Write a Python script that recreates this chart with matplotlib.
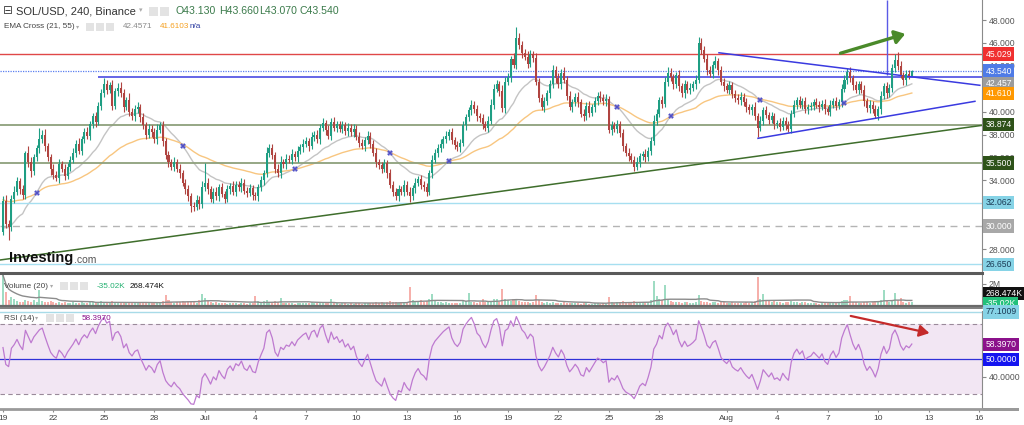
import numpy as np
import pandas as pd
import matplotlib
matplotlib.use("Agg")
import matplotlib.pyplot as plt
import matplotlib.dates as mdates
from matplotlib.patches import Rectangle

plt.rcParams['font.family'] = ['Liberation Sans', 'DejaVu Sans']

# 4h closes, one row per day, Jun 19 -> Aug 12
closes = [
    32.2, 30.2, 29.9, 32.4, 33.0, 33.9,
    33.2, 32.7, 36.4, 35.6, 34.8, 36.0,
    36.8, 37.6, 38.0, 37.0, 36.0, 35.0,
    34.5, 34.2, 35.4, 35.0, 34.4, 35.2,
    35.8, 36.4, 37.2, 36.6, 37.6, 38.2,
    37.9, 38.9, 39.6, 39.1, 40.5, 41.6,
    42.4, 41.9, 42.3, 40.5, 41.8, 42.1,
    41.6, 40.4, 41.0, 40.0, 39.6, 40.2,
    40.4, 39.5, 38.8, 38.0, 38.5, 38.2,
    37.6, 38.4, 38.8, 37.4, 36.2, 35.6,
    35.2, 35.6, 35.0, 34.6, 33.8, 33.2,
    32.6, 31.8, 31.7, 32.3, 31.9, 33.4,
    33.8, 33.2, 32.4, 33.0, 32.6, 33.4,
    32.8, 32.4, 33.2, 33.5, 33.0, 33.6,
    33.4, 33.8, 33.1, 32.9, 33.3, 32.7,
    32.6, 33.4, 34.0, 34.6, 36.4, 36.8,
    36.2, 35.0, 34.6, 35.6, 35.4, 35.9,
    35.8, 36.3, 36.0, 36.6, 36.9, 37.2,
    37.4, 37.0, 37.8, 38.0, 37.6, 38.6,
    39.0, 38.4, 37.9, 39.1, 38.6, 38.9,
    38.5, 38.8, 38.3, 38.6, 38.2, 38.5,
    37.8, 37.3, 37.0, 37.5, 37.9, 37.2,
    36.4, 35.6, 35.3, 35.0, 35.5, 34.6,
    33.6, 33.0, 32.6, 33.2, 33.0, 33.6,
    33.0, 32.6, 33.3, 33.8, 34.1, 33.6,
    33.4, 33.0, 34.6, 35.8, 36.4, 36.8,
    37.2, 37.6, 37.9, 38.2, 37.5, 37.1,
    36.9, 37.3, 38.8, 39.5, 40.1, 40.6,
    40.2, 39.6, 39.4, 38.9, 38.6, 39.2,
    40.6, 42.0, 42.4, 41.8, 40.3, 42.6,
    43.0, 44.6, 44.1, 46.4, 45.8, 45.1,
    44.8, 44.2, 45.0, 44.7, 42.6, 41.2,
    40.4, 40.9, 41.6, 42.4, 43.6, 42.9,
    42.4, 43.4, 42.8, 41.4, 40.4, 40.8,
    41.3, 40.8, 39.8, 39.6, 40.5, 39.9,
    40.4, 40.9, 41.4, 41.2, 40.9, 41.1,
    38.4, 38.8, 38.5, 38.9, 38.1, 37.0,
    36.4, 36.1, 35.8, 35.2, 35.6, 36.1,
    36.3, 36.0, 36.6, 37.4, 39.2, 39.8,
    41.0, 40.7, 42.6, 43.4, 43.0, 42.4,
    43.2, 42.2, 41.6, 42.4, 41.9, 42.1,
    42.4, 42.8, 46.0, 45.4, 44.6, 43.6,
    43.3, 44.1, 44.4, 43.6, 42.6, 42.2,
    41.9, 42.3, 41.5, 41.2, 41.0, 41.3,
    40.8, 40.4, 40.1, 40.4, 39.6, 38.6,
    39.2, 40.1, 39.7, 39.3, 39.6, 38.9,
    39.0, 38.7, 39.2, 38.8, 38.5, 39.8,
    40.6, 41.0, 40.6, 40.9, 40.2, 40.4,
    40.5, 40.8, 40.6, 40.4, 40.7, 40.2,
    40.0, 40.6, 40.9, 40.5, 40.8, 42.0,
    42.8, 43.5, 42.9, 42.3, 41.9, 42.4,
    41.9, 40.9, 40.3, 40.6, 40.2, 39.6,
    40.2, 41.4, 42.2, 41.6, 42.1, 43.8,
    44.5, 44.0, 43.2, 42.8, 43.3, 43.13,
    43.54,
]
first_open = 29.5

# wick above body top / below body bottom
wick_hi = [
    0.4, 0.5, 0.3, 0.3, 0.5, 0.4,  0.3, 0.4, 0.2, 0.6, 0.4, 0.3,
    0.3, 1.0, 0.4, 0.5, 0.3, 0.3,  0.4, 0.3, 0.5, 0.3, 0.4, 0.3,
    0.3, 0.4, 0.3, 0.5, 0.3, 0.4,  0.5, 0.3, 0.3, 0.4, 0.3, 0.4,
    0.5, 0.4, 0.3, 0.5, 0.3, 0.4,  0.5, 0.4, 0.3, 0.6, 0.3, 0.4,
    0.4, 0.3, 0.4, 0.3, 0.4, 0.3,  0.4, 0.5, 0.3, 0.4, 0.3, 0.4,
    0.3, 0.4, 0.3, 0.4, 0.3, 0.3,  0.4, 0.3, 0.3, 0.4, 0.3, 0.5,
    1.7, 0.4, 0.3, 0.3, 0.4, 0.3,  0.4, 0.3, 0.4, 0.3, 0.4, 0.3,
    0.3, 0.4, 0.3, 0.3, 0.4, 0.3,  0.3, 0.3, 0.4, 0.3, 0.5, 0.4,
    0.4, 0.3, 0.4, 0.5, 0.3, 0.4,  0.3, 0.4, 0.3, 0.4, 0.3, 0.4,
    0.4, 0.3, 0.4, 0.3, 0.4, 0.3,  0.4, 0.3, 0.4, 0.3, 0.4, 0.3,
    0.3, 0.4, 0.3, 0.4, 0.3, 0.4,  0.3, 0.4, 0.3, 0.3, 0.4, 0.3,
    0.3, 0.4, 0.3, 0.3, 0.4, 0.3,  0.4, 0.3, 0.3, 0.4, 0.3, 0.4,
    0.3, 0.4, 0.3, 0.4, 0.3, 0.4,  0.3, 0.4, 0.3, 0.4, 0.3, 0.4,
    0.4, 0.3, 0.4, 0.3, 0.4, 0.3,  0.3, 0.3, 0.4, 0.3, 0.3, 0.4,
    0.3, 0.4, 0.3, 0.4, 0.3, 0.4,  0.5, 0.4, 0.4, 0.3, 0.5, 0.4,
    0.4, 0.3, 0.5, 1.0, 0.5, 0.4,  0.4, 0.5, 0.4, 0.3, 0.4, 0.3,
    0.3, 0.4, 0.3, 0.4, 0.5, 0.4,  0.5, 0.3, 0.5, 0.3, 0.4, 0.3,
    0.3, 0.4, 0.3, 0.4, 0.3, 0.4,  0.3, 0.4, 0.3, 0.4, 0.3, 0.4,
    0.3, 0.4, 0.3, 0.4, 0.3, 0.4,  0.3, 0.4, 0.3, 0.3, 0.4, 0.3,
    0.3, 0.4, 0.3, 0.4, 0.5, 0.4,  0.3, 0.4, 0.4, 0.5, 0.4, 0.3,
    0.3, 0.4, 0.3, 0.4, 0.3, 0.4,  0.3, 0.4, 0.5, 0.4, 0.3, 0.4,
    0.4, 0.3, 0.5, 0.3, 0.4, 0.3,  0.3, 0.4, 0.3, 0.4, 0.3, 0.4,
    0.3, 0.4, 0.3, 0.3, 0.4, 0.3,  0.4, 0.3, 0.4, 0.3, 0.4, 0.3,
    0.3, 0.4, 0.3, 0.3, 0.4, 0.3,  0.4, 0.3, 0.4, 0.3, 0.4, 0.3,
    0.3, 0.3, 0.4, 0.3, 0.3, 0.4,  0.3, 0.4, 0.3, 0.4, 0.3, 0.4,
    0.4, 0.3, 0.4, 0.3, 0.4, 0.3,  0.3, 0.4, 0.3, 0.4, 0.3, 0.4,
    0.3, 0.4, 0.3, 0.4, 0.3, 0.4,  0.5, 0.7, 0.4, 0.3, 0.3, 0.3,
    0.12,
]
wick_lo = [
    0.3, 0.4, 1.1, 0.3, 0.4, 0.3,  0.4, 0.3, 0.3, 0.4, 0.5, 0.3,
    0.3, 0.4, 0.3, 0.4, 0.3, 0.5,  0.4, 0.3, 0.4, 0.3, 0.4, 0.3,
    0.4, 0.3, 0.4, 0.3, 0.4, 0.3,  0.3, 0.4, 0.3, 0.4, 0.3, 0.4,
    0.3, 0.4, 0.3, 0.4, 0.3, 0.4,  0.3, 0.4, 0.3, 0.4, 0.3, 0.4,
    0.3, 0.4, 0.3, 0.4, 0.3, 0.4,  0.3, 0.4, 0.3, 0.4, 0.3, 0.4,
    0.3, 0.4, 0.3, 0.4, 0.3, 0.4,  0.4, 0.6, 0.4, 0.3, 0.4, 0.3,
    0.3, 0.4, 0.3, 0.4, 0.3, 0.4,  0.3, 0.4, 0.3, 0.4, 0.3, 0.4,
    0.3, 0.4, 0.3, 0.4, 0.3, 0.4,  0.3, 0.4, 0.3, 0.4, 0.3, 0.4,
    0.3, 0.4, 0.3, 0.4, 0.3, 0.4,  0.3, 0.4, 0.3, 0.4, 0.3, 0.4,
    0.3, 0.4, 0.3, 0.4, 0.3, 0.4,  0.3, 0.4, 0.3, 0.4, 0.3, 0.4,
    0.3, 0.4, 0.3, 0.4, 0.3, 0.4,  0.3, 0.4, 0.3, 0.4, 0.3, 0.4,
    0.3, 0.4, 0.3, 0.4, 0.3, 0.4,  0.3, 0.4, 0.3, 0.4, 0.3, 0.4,
    0.3, 0.5, 0.3, 0.4, 0.3, 0.4,  0.3, 0.4, 0.3, 0.4, 0.3, 0.4,
    0.3, 0.4, 0.3, 0.4, 0.3, 0.4,  0.3, 0.4, 0.3, 0.4, 0.3, 0.4,
    0.3, 0.4, 0.3, 0.4, 0.3, 0.4,  0.3, 0.4, 0.3, 0.4, 0.3, 0.4,
    0.3, 0.4, 0.3, 0.4, 0.3, 0.4,  0.3, 0.4, 0.3, 0.4, 0.3, 0.4,
    0.3, 0.4, 0.3, 0.4, 0.3, 0.4,  0.3, 0.4, 0.3, 0.4, 0.3, 0.4,
    0.3, 0.4, 0.3, 0.4, 0.3, 0.4,  0.3, 0.4, 0.3, 0.4, 0.3, 0.4,
    0.3, 0.4, 0.3, 0.4, 0.3, 0.4,  0.3, 0.4, 0.3, 0.4, 0.3, 0.4,
    0.3, 0.4, 0.3, 0.4, 0.3, 0.4,  0.3, 0.4, 0.3, 0.4, 0.3, 0.4,
    0.3, 0.4, 0.3, 0.4, 0.3, 0.4,  0.3, 0.4, 0.3, 0.4, 0.3, 0.4,
    0.3, 0.4, 0.3, 0.4, 0.3, 0.4,  0.3, 0.4, 0.3, 0.4, 0.3, 0.4,
    0.3, 0.4, 0.3, 0.4, 0.3, 0.8,  0.3, 0.4, 0.3, 0.4, 0.3, 0.4,
    0.3, 0.4, 0.3, 0.4, 0.3, 0.4,  0.3, 0.4, 0.3, 0.4, 0.3, 0.4,
    0.3, 0.4, 0.3, 0.4, 0.3, 0.4,  0.3, 0.4, 0.3, 0.4, 0.3, 0.4,
    0.3, 0.4, 0.3, 0.4, 0.3, 0.4,  0.3, 0.4, 0.3, 0.4, 0.3, 0.2,
    0.3, 0.4, 0.3, 0.4, 0.3, 0.4,  0.3, 0.4, 0.3, 0.5, 0.5, 0.3,
    0.06,
]

# volume in millions
volume_m = [
    2.8, 1.2, 0.5, 0.75, 0.6, 0.4,   0.3, 0.25, 0.5, 0.35, 0.3, 0.5,
    0.3, 1.4, 0.4, 0.3, 0.25, 0.35,  0.3, 0.2, 0.25, 0.2, 0.3, 0.2,
    0.15, 0.3, 0.2, 0.15, 0.25, 0.2, 0.2, 0.3, 0.25, 0.2, 0.3, 0.4,
    0.3, 0.25, 0.2, 0.35, 0.2, 0.15, 0.2, 0.25, 0.15, 0.2, 0.25, 0.15,
    0.2, 0.25, 0.3, 0.2, 0.15, 0.2,  0.2, 0.25, 0.3, 0.35, 0.9, 0.45,
    0.3, 0.2, 0.25, 0.3, 0.35, 0.3,  0.4, 0.35, 0.3, 0.2, 0.5, 1.0,
    0.7, 0.4, 0.3, 0.2, 0.25, 0.2,   0.15, 0.2, 0.1, 0.15, 0.2, 0.15,
    0.1, 0.15, 0.2, 0.1, 0.15, 0.2,  0.85, 0.4, 0.3, 0.35, 0.5, 0.3,
    0.25, 0.4, 0.3, 0.7, 0.2, 0.15,  0.2, 0.15, 0.1, 0.2, 0.15, 0.2,
    0.15, 0.2, 0.25, 0.2, 0.15, 0.3, 0.2, 0.25, 0.15, 0.6, 0.2, 0.15,
    0.1, 0.15, 0.2, 0.1, 0.15, 0.1,  0.15, 0.2, 0.1, 0.15, 0.2, 0.15,
    0.2, 0.3, 0.2, 0.25, 0.2, 0.3,   0.35, 0.3, 0.25, 0.2, 0.3, 0.25,
    0.3, 1.7, 0.5, 0.3, 0.25, 0.5,   0.3, 0.4, 0.6, 1.0, 0.4, 0.3,
    0.25, 0.2, 0.3, 0.2, 0.15, 0.2,  0.15, 0.2, 0.5, 0.4, 1.15, 0.3,
    0.25, 0.2, 0.3, 0.6, 0.25, 0.3,  0.4, 0.55, 0.6, 0.3, 1.5, 0.6,
    0.5, 0.4, 0.55, 0.5, 0.35, 0.3,  0.25, 0.3, 0.2, 0.3, 0.9, 0.5,
    0.3, 0.2, 0.25, 0.2, 0.3, 0.2,   0.15, 0.2, 0.25, 0.2, 0.15, 0.2,
    0.15, 0.2, 0.1, 0.15, 0.2, 0.1,  0.1, 0.15, 0.2, 0.1, 0.15, 0.1,
    0.75, 0.3, 0.2, 0.25, 0.3, 0.35, 0.3, 0.2, 0.25, 0.4, 0.3, 0.2,
    0.2, 0.25, 0.3, 0.5, 2.3, 0.8,   0.6, 0.5, 1.9, 0.6, 0.4, 0.3,
    0.3, 0.25, 0.2, 0.3, 0.25, 0.2,  0.2, 0.3, 0.9, 0.4, 0.3, 0.25,
    0.2, 0.3, 0.25, 0.2, 0.3, 0.25,  0.2, 0.15, 0.25, 0.2, 0.15, 0.2,
    0.2, 0.25, 0.2, 0.3, 0.4, 2.6,   0.6, 1.0, 0.5, 0.35, 0.3, 0.4,
    0.25, 0.3, 0.2, 0.25, 0.3, 0.35, 0.3, 0.25, 0.2, 0.3, 0.25, 0.2,
    0.15, 0.2, 0.15, 0.1, 0.15, 0.2, 0.2, 0.25, 0.3, 0.2, 0.25, 0.4,
    0.5, 0.45, 0.85, 0.3, 0.25, 0.2, 0.2, 0.3, 0.25, 0.2, 0.3, 0.35,
    0.4, 0.5, 1.4, 0.4, 0.3, 0.5,    1.1, 0.5, 0.7, 0.3, 0.2, 0.25,
    0.268,
]

ema21_seed = 29.6
ema55_seed = 32.3
rsi_seed_gain = 0.25
rsi_seed_loss = 0.35

# drawn levels and lines (price, label, colours)
level_tags = [(45.029, "45.029", "#f03030", "white"), (43.540, "43.540", "#4f7be6", "white"),
              (42.457, "42.457", "#9c9c9c", "white"), (41.610, "41.610", "#ff9800", "white"),
              (38.874, "38.874", "#2e5219", "white"), (35.500, "35.500", "#2e5219", "white"),
              (32.062, "32.062", "#86d3e6", "#1a3a55"), (30.000, "30.000", "#a8a8a8", "white"),
              (26.650, "26.650", "#86d3e6", "#1a3a55")]
price_ticks = [28, 34, 36, 38, 40, 44, 46, 48]
trend_pts = [("2021-06-18 19:40", 27.04), ("2021-08-16 04:00", 38.8)]
tri_upper = [("2021-07-31 13:00", 45.14), ("2021-08-16 01:00", 42.3)]
tri_lower = [("2021-08-02 20:40", 37.67), ("2021-08-15 18:00", 40.9)]
resist_start = "2021-06-24 15:20"
vline_time = "2021-08-10 12:40"
up_arrow = [("2021-08-07 14:30", 45.03), ("2021-08-11 18:30", 46.86)]
rsi_arrow = [("2021-08-08 05:00", 75.1), ("2021-08-13 05:00", 64.6)]

times = pd.date_range("2021-06-19 00:00", periods=len(closes), freq="4h")
x = mdates.date2num(times)
c = np.array(closes)
o = np.r_[first_open, c[:-1]]
top = np.maximum(o, c)
bot = np.minimum(o, c)
hi = top + np.array(wick_hi)
lo = bot - np.array(wick_lo)
up = c >= o


def ema(vals, span, seed):
    k = 2.0 / (span + 1)
    e, out = seed, []
    for v in vals:
        e = e + k * (v - e)
        out.append(e)
    return np.array(out)


ema21 = ema(c, 21, ema21_seed)
ema55 = ema(c, 55, ema55_seed)

ag, al = rsi_seed_gain, rsi_seed_loss
rsi = []
for d in np.r_[c[0] - first_open, np.diff(c)]:
    ag = (ag * 13 + max(d, 0)) / 14
    al = (al * 13 + max(-d, 0)) / 14
    rsi.append(100 - 100 / (1 + ag / al))
rsi = np.array(rsi)

vol = np.array(volume_m)
vol_ma = pd.Series(vol).rolling(20, min_periods=1).mean().values

W, H = 1024, 425
fig = plt.figure(figsize=(W / 100, H / 100), dpi=100)
fig.patch.set_facecolor("white")


def rect(x0, y0, x1, y1):
    return [x0 / W, 1 - y1 / H, (x1 - x0) / W, (y1 - y0) / H]


ax = fig.add_axes(rect(0, 0, 982, 271))
axv = fig.add_axes(rect(0, 275, 982, 305), sharex=ax)
axr = fig.add_axes(rect(0, 311, 982, 409), sharex=ax)

x0 = mdates.date2num(pd.Timestamp("2021-06-19")) - 0.178
x1 = mdates.date2num(pd.Timestamp("2021-06-19")) + 58.17
ax.set_xlim(x0, x1)
ax.set_ylim(26.08, 49.75)
axv.set_ylim(0, 2.82)
axr.set_ylim(21.5, 77.6)

for a in (ax, axv, axr):
    for s in ("top", "left", "bottom"):
        a.spines[s].set_visible(False)
    a.spines["right"].set_color("#8a8a8a")
    a.yaxis.tick_right()
    a.tick_params(axis="y", direction="out", length=3, color="#8a8a8a",
                  labelsize=6.2, labelcolor="#555555", pad=2)
    a.tick_params(axis="x", bottom=False, labelbottom=False)

# candles
green, red = "#1f9e83", "#b04440"
cols = np.where(up, green, red)
ax.vlines(x, lo, hi, colors=cols, lw=0.8, zorder=3)
ax.bar(x, np.maximum(top - bot, 0.05), bottom=bot, width=0.12, color=cols, lw=0, zorder=4)

# EMA cross
ax.plot(x, ema21, color="#c4c4c4", lw=1.0, zorder=2)
ax.plot(x, ema55, color="#f8c680", lw=1.0, zorder=2)
sgn = np.sign(ema21 - ema55)
cross = np.where(np.diff(sgn) != 0)[0] + 1
ax.plot(x[cross], ema21[cross], ls="none", marker="X", ms=4, color="#5050c8", mew=0, zorder=5)

# horizontal levels
ax.axhline(45.029, color="#e04848", lw=1)
ax.axhline(43.540, color="#5a7ff0", lw=0.9, ls=(0, (1, 1)))
ax.hlines(43.02, mdates.date2num(pd.Timestamp(resist_start)), x1, color="#3a3ae0", lw=1.1)
ax.axhline(38.874, color="#8ea07c", lw=1.3)
ax.axhline(35.500, color="#8ea07c", lw=1.3)
ax.axhline(32.062, color="#a6dff0", lw=1)
ax.axhline(30.000, color="#b4b4b4", lw=1, ls=(0, (5, 4)))
ax.axhline(26.650, color="#a6dff0", lw=1)


def seg(pts):
    return [mdates.date2num(pd.Timestamp(t)) for t, _ in pts], [p for _, p in pts]


ax.plot(*seg(trend_pts), color="#3f6e2c", lw=1.1, zorder=3)
ax.plot(*seg(tri_upper), color="#3a3ae0", lw=1.1, zorder=3)
ax.plot(*seg(tri_lower), color="#3a3ae0", lw=1.1, zorder=3)
ax.vlines(mdates.date2num(pd.Timestamp(vline_time)), 43.2, 49.75, color="#5a5ae6", lw=1)

ux, uy = seg(up_arrow)
ax.annotate("", xy=(ux[1], uy[1]), xytext=(ux[0], uy[0]),
            arrowprops=dict(arrowstyle="-|>,head_length=0.6,head_width=0.4", color="#4a8a2a", lw=2.4),
            zorder=6)

ax.set_yticks(price_ticks)
ax.yaxis.set_major_formatter(plt.FuncFormatter(lambda v, p: f"{v:.3f}"))


def tag(a, y, text, bg, fg):
    a.annotate(text, xy=(1, y), xycoords=("axes fraction", "data"), xytext=(2.5, 0),
               textcoords="offset points", ha="left", va="center", fontsize=6.2, color=fg,
               bbox=dict(boxstyle="square,pad=0.25", fc=bg, ec="none"),
               annotation_clip=False, zorder=10)


for y, t, bg, fg in level_tags:
    tag(ax, y, t, bg, fg)

# volume
vcols = np.where(up, "#9fdcc3", "#f6b0ab")
axv.bar(x, vol, width=0.12, color=vcols, lw=0)
axv.plot(x, vol_ma, color="#8c8c8c", lw=1)
axv.set_yticks([2.0])
axv.set_yticklabels(["2M"])
tag(axv, 1.05, "268.474K", "#111111", "white")
tag(axv, 0.1, "-35.02K", "#22c07a", "white")

# RSI
axr.axhspan(30, 70, color="#f2e6f3", lw=0)
axr.axhline(70, color="#9a8a9a", lw=0.8, ls=(0, (4, 3)))
axr.axhline(30, color="#9a8a9a", lw=0.8, ls=(0, (4, 3)))
axr.axhline(50, color="#3030d8", lw=0.9)
axr.axhline(77.1009, color="#a8dbe8", lw=1)
axr.plot(x, rsi, color="#be7ad0", lw=0.9)
rx, ry = seg(rsi_arrow)
axr.annotate("", xy=(rx[1], ry[1]), xytext=(rx[0], ry[0]),
             arrowprops=dict(arrowstyle="-|>,head_length=0.6,head_width=0.35", color="#c42a2a", lw=1.6))
axr.set_yticks([40])
axr.set_yticklabels(["40.0000"])
tag(axr, 77.1009, "77.1009", "#86d3e6", "#1a3a55")
tag(axr, 58.397, "58.3970", "#8b118b", "white")
tag(axr, 50.0, "50.0000", "#1414f0", "white")

# date axis
ticks = ["2021-06-19", "2021-06-22", "2021-06-25", "2021-06-28", "2021-07-01", "2021-07-04",
         "2021-07-07", "2021-07-10", "2021-07-13", "2021-07-16", "2021-07-19", "2021-07-22",
         "2021-07-25", "2021-07-28", "2021-08-01", "2021-08-04", "2021-08-07", "2021-08-10",
         "2021-08-13", "2021-08-16"]
tick_labels = ["19", "22", "25", "28", "Jul", "4", "7", "10", "13", "16", "19", "22",
               "25", "28", "Aug", "4", "7", "10", "13", "16"]
axr.spines["bottom"].set_visible(True)
axr.spines["bottom"].set_color("#9a9a9a")
axr.spines["bottom"].set_linewidth(2)
axr.set_xticks([mdates.date2num(pd.Timestamp(t)) for t in ticks])
axr.set_xticklabels(tick_labels)
axr.tick_params(axis="x", bottom=True, labelbottom=True, length=2.5, color="#8a8a8a",
                labelsize=6, labelcolor="#444444", pad=1.5)

# panel separators
for yy, lw, col in [(272.5, 2.2, "#5a5a5a"), (306, 1.6, "#6a6a6a"), (308, 1.2, "#6a6a6a")]:
    fig.add_artist(plt.Line2D([0, 982 / W], [1 - yy / H] * 2, color=col, lw=lw,
                              transform=fig.transFigure))
fig.add_artist(Rectangle((983 / W, 1 - 411 / H), 36 / W, 3 / H, transform=fig.transFigure,
                         fc="#9a9a9a", ec="none"))


def ftext(px, py, s, **kw):
    fig.text(px / W, 1 - py / H, s, va="center", ha="left", **kw)


def icons(px, py, n, sz=9.0):
    for k in range(n):
        fig.add_artist(Rectangle(((px + k * (sz + 2)) / W, 1 - (py + sz / 2) / H), sz / W, sz / H,
                                 transform=fig.transFigure, fc="#e3e3e3", ec="none"))


ftext(3, 11, "⊟", fontsize=8.5, color="#444444")
ftext(16, 11, "SOL/USD, 240, Binance", fontsize=8.0, color="#333333")
ftext(139, 11, "▾", fontsize=5, color="#aaaaaa")
icons(149, 11, 2)
for px, s in [(175, "O43.130"), (219, "H43.660"), (259, "L43.070"), (300, "C43.540")]:
    ftext(px, 11, s, fontsize=7.6, color="#3a7a4a")
ftext(4, 27, "EMA Cross (21, 55)", fontsize=5.9, color="#444444")
ftext(76, 27, "▾", fontsize=4.5, color="#aaaaaa")
icons(86, 27, 3, 8)
ftext(123, 27, "42.4571", fontsize=5.9, color="#8a8a8a")
ftext(160, 27, "41.6103", fontsize=5.9, color="#f5a020")
ftext(190, 27, "n/a", fontsize=5.9, color="#2a3aa0")

ftext(4, 286, "Volume (20)", fontsize=5.9, color="#444444")
ftext(50, 286, "▾", fontsize=4.5, color="#aaaaaa")
icons(60, 286, 3, 8)
ftext(97, 286, "-35.02K", fontsize=5.9, color="#22b070")
ftext(130, 286, "268.474K", fontsize=5.9, color="#111111")

ftext(4, 318, "RSI (14)", fontsize=5.9, color="#444444")
ftext(35, 318, "▾", fontsize=4.5, color="#aaaaaa")
icons(46, 318, 3, 8)
ftext(82, 318, "58.3970", fontsize=5.9, color="#8b118b")

# watermark
ftext(9, 258, "Investing", fontsize=10.5, fontweight="bold", color="#111111")
ftext(74, 260, ".com", fontsize=7.5, color="#555555")

fig.savefig("out.png", dpi=100)
